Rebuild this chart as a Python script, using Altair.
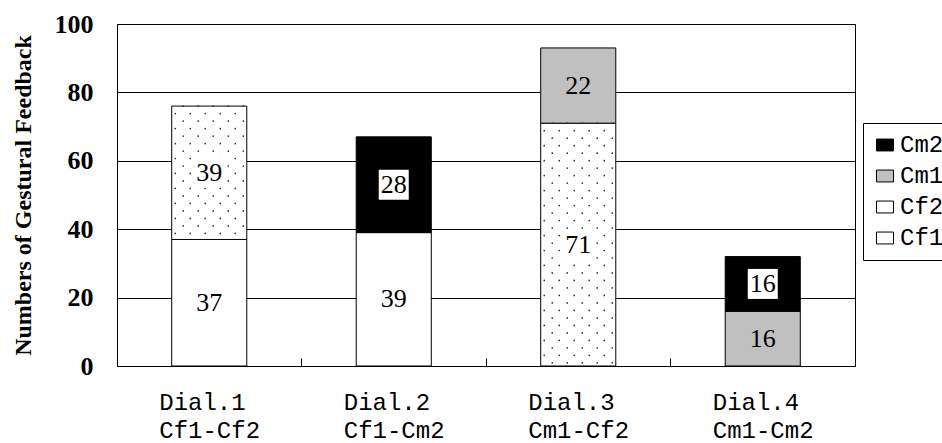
import altair as alt
import numpy as np
import pandas as pd

# Dialogues on the x axis and the speaker pair of each one
dialogues = ["Dial.1", "Dial.2", "Dial.3", "Dial.4"]
pairs = ["Cf1-Cf2", "Cf1-Cm2", "Cm1-Cf2", "Cm1-Cm2"]

# Gestural feedback counts per speaker (stacked bottom to top: Cf1, Cf2, Cm1, Cm2)
cf1 = [37, 39, 0, 0]
cf2 = [39, 0, 71, 0]
cm1 = [0, 0, 22, 16]
cm2 = [0, 28, 0, 16]

stack_order = ["Cf1", "Cf2", "Cm1", "Cm2"]
legend_order = ["Cm2", "Cm1", "Cf2", "Cf1"]
series = {"Cf1": cf1, "Cf2": cf2, "Cm1": cm1, "Cm2": cm2}

cats = [f"{d}\n{p}" for d, p in zip(dialogues, pairs)]

PLOT_W, PLOT_H = 738, 342
half_step = PLOT_W / len(cats) / 2

rows = []
for i, cat in enumerate(cats):
    base = 0
    for sp in stack_order:
        v = series[sp][i]
        if v > 0:
            rows.append({"cat": cat, "speaker": sp, "value": v,
                         "start": base, "end": base + v, "mid": base + v / 2})
            base += v
df = pd.DataFrame(rows)

# Dot texture for the Cf2 segments (staggered lattice inside each bar)
row_step = 2.19
cols_a = [-26, -11, 4, 19, 34]
cols_b = [-34, -19, -4, 11, 26]
dots = []
for r in rows:
    if r["speaker"] != "Cf2":
        continue
    k = 0
    y = r["end"]
    while y > r["start"] + 0.3:
        for dx in (cols_a if k % 2 == 0 else cols_b):
            dots.append({"cat": r["cat"], "y": y, "dx": dx + half_step})
        k += 1
        y = r["end"] - k * row_step
dots_df = pd.DataFrame(dots)

x_scale = alt.Scale(domain=cats, paddingInner=0, paddingOuter=0)
y_scale = alt.Scale(domain=[0, 100])
y_axis = alt.Axis(values=[0, 20, 40, 60, 80, 100], grid=True, gridColor="black",
                  gridWidth=1, gridOpacity=1, ticks=False, domain=False,
                  labelFont="Liberation Serif", labelFontWeight="bold",
                  labelFontSize=26, labelColor="black", labelPadding=24,
                  title="Numbers of Gestural Feedback", titleFont="Liberation Serif",
                  titleFontSize=24, titleFontWeight="bold", titleColor="black",
                  titlePadding=19)

label_axis = alt.Axis(orient="bottom", title=None, ticks=False, domain=False, grid=False,
                      labelExpr="split(datum.value, '\\n')", labelFont="Liberation Mono",
                      labelFontSize=24, labelColor="black", labelAngle=0,
                      labelAlign="left", labelOffset=-50, labelBaseline="top",
                      labelPadding=24, labelLineHeight=28)

tick_axis = alt.Axis(orient="bottom", title=None, labels=False, domain=False, grid=False,
                     ticks=True, tickSize=8, tickColor="black", tickWidth=1,
                     bandPosition=0, offset=-8)

bars = alt.Chart(df).mark_bar(width=alt.RelativeBandSize(0.407), stroke="black",
                              strokeWidth=1).encode(
    x=alt.X("cat:N", scale=x_scale, axis=label_axis),
    y=alt.Y("end:Q", scale=y_scale, axis=y_axis),
    y2="start:Q",
    fill=alt.Fill("speaker:N",
                  scale=alt.Scale(domain=legend_order,
                                  range=["#000000", "#c0c0c0", "#ffffff", "#ffffff"]),
                  legend=alt.Legend(title=None, orient="none", legendX=746, legendY=99,
                                    strokeColor="black", padding=10,
                                    symbolType="M-1,-0.7H1V0.7H-1Z", symbolSize=289,
                                    symbolStrokeColor="black", symbolStrokeWidth=1,
                                    labelFont="Liberation Mono", labelFontSize=24,
                                    labelColor="black", labelOffset=3, rowPadding=7)),
)

texture = alt.Chart(dots_df).mark_circle(size=3, color="#333333", opacity=1).encode(
    x=alt.X("cat:N", scale=x_scale, axis=None),
    xOffset=alt.XOffset("dx:Q", scale=None),
    y=alt.Y("y:Q", scale=y_scale, axis=y_axis),
)

label_bg = alt.Chart(df).transform_filter(
    alt.datum.speaker != "Cm1"
).mark_square(size=900, color="white", opacity=1).encode(
    x=alt.X("cat:N", scale=x_scale, axis=None),
    y=alt.Y("mid:Q", scale=y_scale, axis=y_axis),
)

labels = alt.Chart(df).mark_text(font="Liberation Serif", fontSize=26,
                                 baseline="middle", color="black").encode(
    x=alt.X("cat:N", scale=x_scale, axis=tick_axis),
    y=alt.Y("mid:Q", scale=y_scale, axis=y_axis),
    text="value:Q",
)

chart = alt.layer(bars, texture, label_bg, labels).resolve_axis(x="independent").properties(
    width=PLOT_W, height=PLOT_H,
    padding={"left": 117, "top": 24, "right": 87, "bottom": 77},
    autosize=alt.AutoSizeParams(type="none"),
    background="white",
).configure_view(stroke="black", strokeWidth=1)

chart.save("out.html", embed_options={"renderer": "svg", "actions": False})
